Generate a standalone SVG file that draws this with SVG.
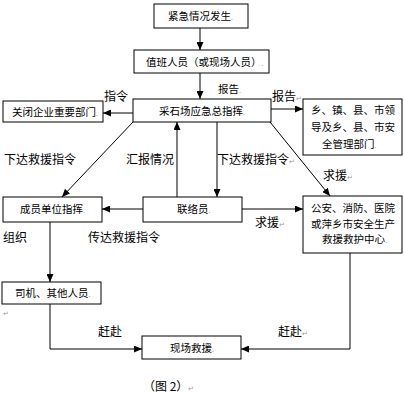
<svg xmlns="http://www.w3.org/2000/svg" width="404" height="393" viewBox="0 0 404 393">
<style>
.box{fill:#fff;stroke:#000;stroke-width:1}
.bt{font-family:"Noto Sans CJK SC","Noto Sans CJK JP",sans-serif;font-size:10.5px;fill:#000}
.lb{font-family:"Noto Sans CJK SC","Noto Sans CJK JP",sans-serif;font-size:12px;fill:#000}
.pm{font-size:7px;fill:#999}
.ln{fill:none;stroke:#000;stroke-width:1}
</style>
<defs>
<marker id="ah" markerWidth="8" markerHeight="7" refX="8" refY="3.5" orient="auto" markerUnits="userSpaceOnUse">
<path d="M0,0 L8,3.5 L0,7 z" fill="#000"/>
</marker>
</defs>
<rect width="404" height="393" fill="#fff"/>
<g id="connectors">
<line class="ln" x1="200" y1="28" x2="200" y2="50" marker-end="url(#ah)"/>
<line class="ln" x1="200" y1="73" x2="200" y2="99" marker-end="url(#ah)"/>
<line class="ln" x1="133" y1="113" x2="103" y2="113" marker-end="url(#ah)"/>
<line class="ln" x1="271" y1="109" x2="303" y2="109" marker-end="url(#ah)"/>
<line class="ln" x1="133" y1="122" x2="62" y2="197" marker-end="url(#ah)"/>
<line class="ln" x1="177" y1="197" x2="177" y2="122" marker-end="url(#ah)"/>
<line class="ln" x1="217" y1="122" x2="217" y2="197" marker-end="url(#ah)"/>
<line class="ln" x1="270" y1="122" x2="330" y2="196" marker-end="url(#ah)"/>
<line class="ln" x1="143" y1="209" x2="102" y2="209" marker-end="url(#ah)"/>
<line class="ln" x1="242" y1="209" x2="303" y2="209" marker-end="url(#ah)"/>
<line class="ln" x1="50" y1="222" x2="50" y2="282" marker-end="url(#ah)"/>
<polyline class="ln" points="50,304 50,349 142,349" marker-end="url(#ah)"/>
<polyline class="ln" points="350,253 350,349 241,349" marker-end="url(#ah)"/>
</g>
<g id="n1"><rect class="box" x="154" y="4" width="94" height="24"/><text class="bt" x="168" y="20">紧急情况发生<tspan class="pm">.</tspan></text></g>
<g id="n2"><rect class="box" x="134" y="50" width="135" height="23"/><text class="bt" x="146" y="66">值班人员（或现场人员）<tspan class="pm">.</tspan></text></g>
<g id="n3"><rect class="box" x="133" y="99" width="138" height="23"/><text class="bt" x="159" y="115">采石场应急总指挥<tspan class="pm">.</tspan></text></g>
<g id="n4"><rect class="box" x="3" y="101" width="100" height="21"/><text class="bt" x="12" y="116">关闭企业重要部门<tspan class="pm">.</tspan></text></g>
<g id="n5"><rect class="box" x="303" y="99" width="99" height="56"/>
<text class="bt" x="311" y="114">乡、镇、县、市领</text>
<text class="bt" x="311" y="131">导及乡、县、市安</text>
<text class="bt" x="322" y="148">全管理部门<tspan class="pm">.</tspan></text></g>
<g id="n6"><rect class="box" x="3" y="197" width="99" height="25"/><text class="bt" x="20" y="213">成员单位指挥<tspan class="pm">.</tspan></text></g>
<g id="n7"><rect class="box" x="143" y="197" width="99" height="25"/><text class="bt" x="177" y="213">联络员<tspan class="pm">.</tspan></text></g>
<g id="n8"><rect class="box" x="303" y="196" width="99" height="57"/>
<text class="bt" x="311" y="212">公安、消防、医院</text>
<text class="bt" x="311" y="228">或萍乡市安全生产</text>
<text class="bt" x="322" y="243">救援救护中心<tspan class="pm">.</tspan></text></g>
<g id="n9"><rect class="box" x="2" y="282" width="99" height="22"/><text class="bt" x="15" y="297">司机、其他人员<tspan class="pm">.</tspan></text></g>
<g id="n10"><rect class="box" x="142" y="336" width="99" height="23"/><text class="bt" x="170" y="352">现场救援<tspan class="pm">.</tspan></text></g>
<g id="labels">
<text class="bt" x="218" y="93">报告<tspan class="pm">.</tspan></text>
<text class="lb" x="104" y="101">指令</text>
<text class="lb" x="272" y="101">报告<tspan class="pm">↵</tspan></text>
<text class="lb" x="4" y="164">下达救援指令</text>
<text class="lb" x="126" y="164">汇报情况</text>
<text class="lb" x="217" y="164">下达救援指令<tspan class="pm">↵</tspan></text>
<text class="lb" x="323" y="180">求援<tspan class="pm">↵</tspan></text>
<text class="lb" x="255" y="227">求援<tspan class="pm">↵</tspan></text>
<text class="lb" x="3" y="242">组织</text>
<text class="lb" x="88" y="242">传达救援指令</text>
<text class="lb" x="98" y="336">赶赴</text>
<text class="lb" x="278" y="336">赶赴<tspan class="pm">↵</tspan></text>
<text class="lb" x="143" y="391">（图 2）<tspan class="pm">↵</tspan></text>
<text class="pm" x="3" y="316">↵</text>
</g>
</svg>
